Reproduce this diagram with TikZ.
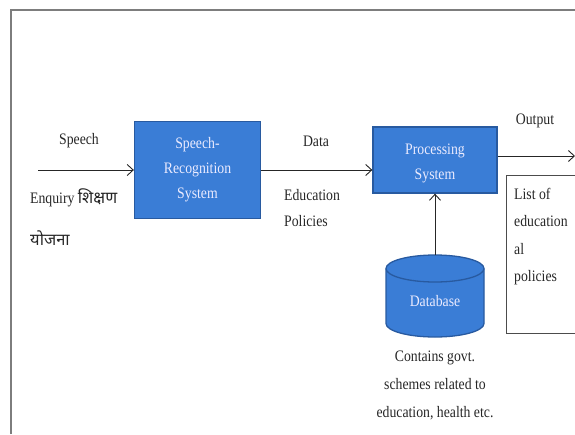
\documentclass[tikz,border=0pt]{standalone}
\usepackage{fontspec}
\setmainfont{Liberation Serif}[FakeStretch=0.86]
\newfontfamily\deva[Script=Devanagari]{Noto Sans}
\usetikzlibrary{arrows.meta}
\definecolor{boxblue}{RGB}{58,125,214}
\definecolor{boxedge}{RGB}{40,90,160}
\definecolor{framegray}{RGB}{125,125,125}
\begin{document}
\begin{tikzpicture}[x=1pt,y=-1pt,
  bluebox/.style={draw=boxedge,line width=1.3pt,fill=boxblue,inner sep=0pt},
  boxtext/.style={text=white!92!blue,align=center,inner sep=0pt,font=\fontsize{16}{25}\selectfont},
  lbl/.style={inner sep=0pt,font=\fontsize{16}{21}\selectfont,text=black!85},
  hindi/.style={font=\deva\fontsize{16.5}{20}\selectfont},
  flow/.style={draw=black!85,line width=0.9pt,-{Straight Barb[length=6pt,width=11pt]}}]
\useasboundingbox (0,0) rectangle (575,434);
% outer frame (top and left edges)
\draw[framegray,line width=1.6pt] (11,434) -- (11,10) -- (575,10);

% blocks
\node[bluebox,minimum width=126pt,minimum height=97pt] (sr) at (197.5,170) {};
\node[boxtext] (srt) at (197.5,170) {Speech-\\Recognition\\System};
\node[bluebox,minimum width=124pt,minimum height=66pt] (ps) at (435,160) {};
\node[boxtext] (pst) at (435,163) {Processing\\System};

% database cylinder
\fill[boxblue,draw=boxedge,line width=1.3pt]
  (386,268.5) -- (386,323.5) arc[start angle=180,end angle=360,x radius=49,y radius=-13.5]
  -- (484,268.5) arc[start angle=0,end angle=180,x radius=49,y radius=-13.5] -- cycle;
\draw[boxedge,line width=1.3pt] (386,268.5) arc[start angle=180,end angle=360,x radius=49,y radius=-13.5];
\coordinate (dbtop) at (435,255);
\node[lbl,text=white!92!blue] (db) at (435,301) {Database};

% output list box (runs off the right edge)
\draw[draw=black!70,line width=0.8pt] (575,175) -- (506,175) -- (506,333) -- (575,333);
\node[lbl,align=left,anchor=north west,font=\fontsize{16}{27.3}\selectfont] (lst) at (514,188)
  {List of\\education\\al\\policies};

% connectors
\coordinate (in) at (38,170);
\coordinate (out) at (575,156);
\draw[flow] (in) -- (sr.west);
\draw[flow] (sr.east) -- (sr.east -| ps.west);
\draw[flow] (ps.east |- out) -- (out);
\draw[flow] (dbtop) -- (ps.south);

% labels
\node[lbl] (speech) at (79,141) {Speech};
\node[lbl,anchor=west] (enq) at (30,198) {Enquiry {\deva\fontsize{16.5}{20}\selectfont शिक्षण}};
\node[lbl,anchor=west,hindi] (yoj) at (30,238) {योजना};
\node[lbl] (data) at (316,141) {Data};
\node[lbl,align=left,anchor=north west,font=\fontsize{16}{26}\selectfont] (edu) at (284,189) {Education\\Policies};
\node[lbl] (outp) at (535,121) {Output};
\node[lbl,align=center,font=\fontsize{16}{28}\selectfont] (cont) at (435,385)
  {Contains govt.\\schemes related to\\education, health etc.};
\end{tikzpicture}
\end{document}
